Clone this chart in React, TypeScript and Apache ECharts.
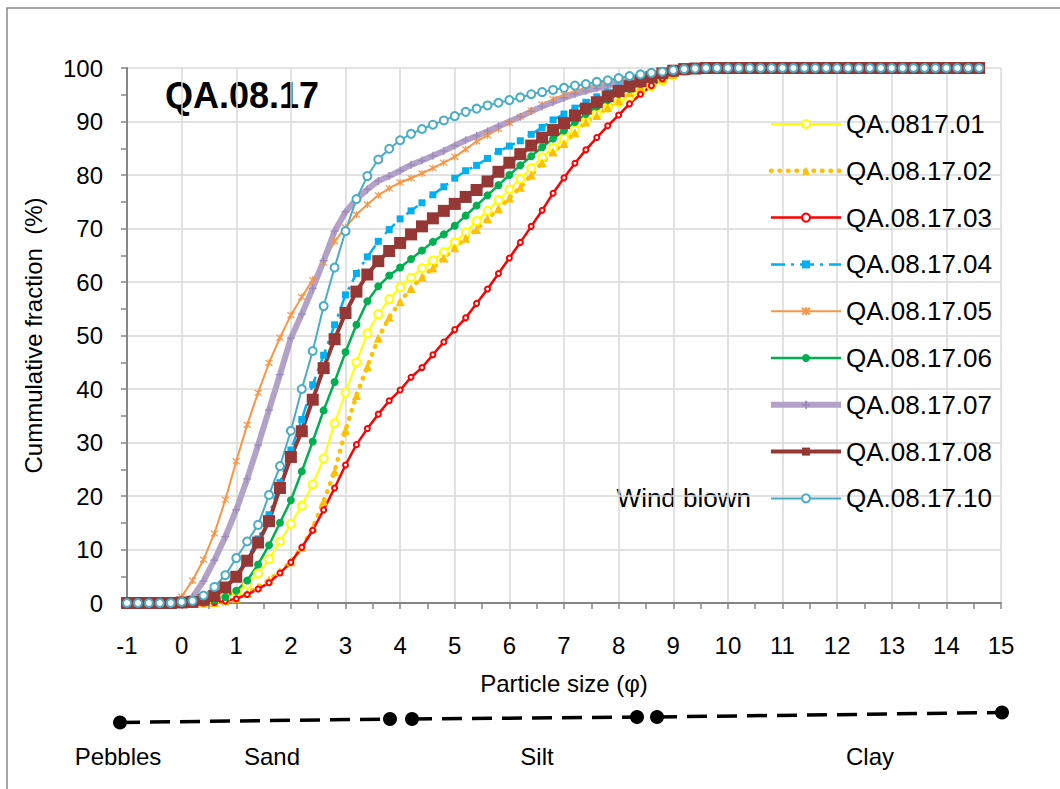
import React, { useEffect, useRef } from "react";
import * as echarts from "echarts";

const FONT = '"Liberation Sans", Arial, sans-serif';

// particle size (phi)
const X = [
  -1.0, -0.8, -0.6, -0.4, -0.2,
  0.0, 0.2, 0.4, 0.6, 0.8, 1.0, 1.2, 1.4, 1.6, 1.8,
  2.0, 2.2, 2.4, 2.6, 2.8, 3.0, 3.2, 3.4, 3.6, 3.8,
  4.0, 4.2, 4.4, 4.6, 4.8, 5.0, 5.2, 5.4, 5.6, 5.8,
  6.0, 6.2, 6.4, 6.6, 6.8, 7.0, 7.2, 7.4, 7.6, 7.8,
  8.0, 8.2, 8.4, 8.6, 8.8, 9.0, 9.2, 9.4, 9.6, 9.8,
  10.0, 10.2, 10.4, 10.6, 10.8, 11.0, 11.2, 11.4, 11.6, 11.8,
  12.0, 12.2, 12.4, 12.6, 12.8, 13.0, 13.2, 13.4, 13.6, 13.8,
  14.0, 14.2, 14.4, 14.6,
];

const TAIL = [
  100, 100, 100, 100, 100, 100, 100, 100, 100, 100,
  100, 100, 100, 100, 100, 100, 100, 100, 100, 100,
  100, 100, 100,
];

const S01 = [
  0, 0, 0, 0, 0,
  0, 0, 0.1, 0.4, 1.0, 2.0, 3.5, 5.5, 8.2, 11.5,
  14.8, 18.2, 22.2, 27.0, 33.6, 39.3, 45.0, 50.4, 54.0, 56.8,
  59.0, 60.8, 62.6, 64.0, 65.6, 67.4, 69.3, 71.4, 73.3, 75.3,
  77.3, 79.3, 81.3, 83.3, 85.1, 86.8, 88.5, 90.0, 91.4, 92.6,
  93.6, 94.6, 95.6, 96.6, 97.6, 98.6, 99.4, 99.8, 100, 100,
  100, ...TAIL,
];
const S02 = [
  0, 0, 0, 0, 0,
  0, 0, 0, 0.1, 0.4, 0.9, 1.8, 3.0, 4.3, 5.9,
  7.7, 10.4, 14.0, 19.0, 24.6, 32.3, 38.8, 44.2, 49.5, 53.4,
  56.3, 58.8, 60.9, 62.6, 64.5, 66.4, 68.2, 69.8, 71.8, 73.7,
  75.7, 77.7, 80.0, 82.3, 84.3, 85.9, 87.9, 89.9, 91.1, 92.6,
  93.9, 95.4, 96.4, 97.2, 98.0, 98.8, 99.4, 99.8, 100, 100,
  100, ...TAIL,
];
const S03 = [
  0, 0, 0, 0, 0,
  0, 0, 0, 0.1, 0.4, 0.8, 1.6, 2.6, 3.8, 5.6,
  7.6, 10.4, 13.6, 17.4, 21.5, 25.8, 29.6, 32.6, 35.3, 37.8,
  39.8, 42.2, 44.0, 46.4, 48.8, 51.1, 53.3, 56.0, 58.7, 61.6,
  64.5, 67.4, 70.4, 73.4, 76.6, 79.5, 82.2, 84.7, 87.0, 89.2,
  91.2, 93.3, 95.1, 96.7, 98.0, 99.0, 99.6, 99.9, 100, 100,
  100, ...TAIL,
];
const S04 = [
  0, 0, 0, 0, 0,
  0.1, 0.2, 0.6, 1.4, 3.0, 5.2, 8.3, 12.0, 16.5, 22.5,
  28.6, 34.3, 40.8, 46.3, 52.0, 57.6, 61.6, 64.7, 67.6, 69.8,
  71.8, 73.3, 74.8, 76.3, 77.8, 79.4, 80.8, 81.8, 83.1, 84.4,
  85.4, 86.4, 87.6, 88.9, 90.3, 91.4, 92.5, 93.6, 94.6, 95.5,
  96.3, 97.0, 97.7, 98.3, 98.9, 99.3, 99.7, 99.9, 100, 100,
  100, ...TAIL,
];
const S05 = [
  0, 0, 0, 0, 0,
  1.2, 4.2, 8.1, 13.0, 19.3, 26.5, 33.3, 39.3, 44.9, 49.6,
  53.8, 57.2, 60.4, 63.6, 67.6, 70.2, 72.6, 74.5, 76.2, 77.5,
  78.6, 79.4, 80.3, 81.3, 82.3, 83.4, 84.8, 86.3, 87.4, 88.6,
  89.7, 90.9, 92.1, 93.2, 94.2, 95.0, 95.7, 96.3, 97.0, 97.5,
  98.0, 98.4, 98.8, 99.1, 99.4, 99.6, 99.8, 99.9, 100, 100,
  100, ...TAIL,
];
const S06 = [
  0, 0, 0, 0, 0,
  0, 0, 0.2, 0.5, 1.1, 2.3, 4.2, 7.2, 10.8, 15.0,
  19.2, 24.6, 30.2, 36.0, 41.3, 46.9, 52.0, 56.4, 59.2, 61.2,
  62.7, 64.3, 65.9, 67.5, 68.9, 70.5, 72.4, 74.3, 76.2, 78.1,
  80.0, 81.8, 83.5, 85.2, 86.8, 88.3, 89.9, 91.4, 92.8, 94.0,
  95.1, 96.1, 97.0, 97.9, 98.6, 99.2, 99.6, 99.9, 100, 100,
  100, ...TAIL,
];
const S07 = [
  0, 0, 0, 0, 0,
  0.2, 1.1, 4.1, 8.0, 12.4, 17.4, 23.2, 29.5, 36.1, 42.7,
  49.5, 54.0, 58.8, 64.0, 69.5, 73.1, 75.5, 77.3, 78.9, 79.8,
  80.8, 81.9, 82.7, 83.6, 84.5, 85.5, 86.5, 87.3, 88.2, 89.1,
  90.0, 90.9, 91.9, 92.8, 93.6, 94.4, 95.1, 95.7, 96.2, 96.7,
  97.2, 97.7, 98.1, 98.5, 98.9, 99.3, 99.6, 99.8, 100, 100,
  100, ...TAIL,
];
const S08 = [
  0, 0, 0, 0, 0,
  0.1, 0.2, 0.6, 1.3, 2.9, 4.9, 7.9, 11.3, 15.3, 21.5,
  27.3, 32.1, 38.0, 43.9, 49.3, 54.2, 58.2, 61.4, 63.9, 65.8,
  67.3, 68.9, 70.4, 71.9, 73.3, 74.6, 75.9, 77.2, 78.8, 80.6,
  82.3, 83.9, 85.5, 87.0, 88.4, 89.7, 91.1, 92.4, 93.6, 94.7,
  95.7, 96.6, 97.5, 98.3, 99.0, 99.5, 99.8, 99.9, 100, 100,
  100, ...TAIL,
];
const S10 = [
  0, 0, 0, 0, 0,
  0.2, 0.4, 1.4, 3.0, 5.2, 8.4, 11.5, 14.6, 20.2, 25.6,
  32.2, 40.0, 47.1, 55.5, 62.7, 69.5, 75.5, 79.8, 82.9, 84.9,
  86.5, 87.7, 88.6, 89.4, 90.2, 91.0, 91.8, 92.4, 93.0, 93.5,
  94.0, 94.5, 95.1, 95.5, 95.9, 96.3, 96.7, 97.0, 97.4, 97.7,
  98.1, 98.5, 98.8, 99.1, 99.3, 99.6, 99.8, 99.9, 100, 100,
  100, ...TAIL,
];

const NAMES = [
  "QA.0817.01",
  "QA.08.17.02",
  "QA.08.17.03",
  "QA.08.17.04",
  "QA.08.17.05",
  "QA.08.17.06",
  "QA.08.17.07",
  "QA.08.17.08",
  "QA.08.17.10",
];
const VALUES = [S01, S02, S03, S04, S05, S06, S07, S08, S10];

const TITLE = "QA.08.17";
const NOTE = "Wind blown";
const X_TITLE = "Particle size (\u03c6)";
const Y_TITLE = "Cummulative fraction  (%)";
const CLASS_LABELS = ["Pebbles", "Sand", "Silt", "Clay"];

const STAR = "path://M0,0L10,10M10,0L0,10M5,-1L5,11";
const PLUS = "path://M5,0L5,10M0,5L10,5";

const STYLES: any[] = [
  { color: "#FFFF00", lw: 2, type: "solid", symbol: "emptyCircle", size: 8, bw: 1.5 },
  { color: "#FFC000", lw: 4.5, type: [0.5, 8], cap: "round", symbol: "triangle", size: 9, bw: 0 },
  { color: "#FF0000", lw: 2.5, type: "solid", symbol: "emptyCircle", size: 5, bw: 1.5 },
  { color: "#00B0F0", lw: 2.5, type: [14, 6, 3, 6], symbol: "rect", size: 7, bw: 0 },
  { color: "#F79646", lw: 2, type: "solid", symbol: STAR, size: 7, bw: 1.2, border: "#F79646" },
  { color: "#00B050", lw: 2.5, type: "solid", symbol: "circle", size: 8, bw: 0 },
  { color: "#B3A2C7", lw: 6, type: "solid", symbol: PLUS, size: 8, bw: 1.2, border: "#9C88BE" },
  { color: "#953735", lw: 4, type: "solid", symbol: "rect", size: 12, bw: 0 },
  { color: "#4BACC6", lw: 2, type: "solid", symbol: "emptyCircle", size: 8, bw: 1.5 },
];

// decorative grain-size class scale under the axis (pixel layout)
const SCALE_DOTS = [
  [120, 722.5], [390, 719], [412, 719], [637, 717], [657, 717], [1002, 712.5],
];
const SCALE_LABEL_X = [118, 272, 537, 870];

export default function App() {
  const ref = useRef<HTMLDivElement>(null);
  useEffect(() => {
    if (!ref.current) return;
    const chart = echarts.init(ref.current, undefined, { renderer: "svg" });

    const series = VALUES.map((vals, i) => {
      const st = STYLES[i];
      return {
        name: NAMES[i],
        type: "line",
        data: X.map((x, j) => [x, vals[j]]),
        symbol: st.symbol,
        symbolSize: st.size,
        showSymbol: true,
        lineStyle: { color: st.color, width: st.lw, type: st.type, cap: st.cap || "butt" },
        itemStyle: {
          color: st.color,
          borderColor: st.border || st.color,
          borderWidth: st.bw,
        },
        emphasis: { disabled: true },
      };
    });

    const legendData = NAMES.map((n, i) => ({
      name: n,
      lineStyle: { width: STYLES[i].lw, type: STYLES[i].type, cap: STYLES[i].cap || "butt" },
    }));

    const graphics: any[] = [
      {
        type: "rect",
        shape: { x: 7, y: 8, width: 1200, height: 1000 },
        style: { fill: "none", stroke: "#898989", lineWidth: 1.5 },
        silent: true,
      },
      {
        type: "text",
        x: 242,
        y: 95,
        style: {
          text: TITLE,
          font: `bold 36px ${FONT}`,
          fill: "#000",
          textAlign: "center",
          textVerticalAlign: "middle",
        },
      },
      {
        type: "text",
        x: 751,
        y: 498,
        style: {
          text: NOTE,
          font: `26px ${FONT}`,
          fill: "#000",
          textAlign: "right",
          textVerticalAlign: "middle",
        },
      },
    ];
    for (let k = 0; k < SCALE_DOTS.length; k += 2) {
      const a = SCALE_DOTS[k];
      const b = SCALE_DOTS[k + 1];
      graphics.push({
        type: "line",
        shape: { x1: a[0], y1: a[1], x2: b[0], y2: b[1] },
        style: { stroke: "#000", lineWidth: 3.5, lineDash: [20, 10] },
      });
    }
    SCALE_DOTS.forEach((d) => {
      graphics.push({
        type: "circle",
        shape: { cx: d[0], cy: d[1], r: 7 },
        style: { fill: "#000" },
      });
    });
    CLASS_LABELS.forEach((t, i) => {
      graphics.push({
        type: "text",
        x: SCALE_LABEL_X[i],
        y: 756,
        style: {
          text: t,
          font: `24px ${FONT}`,
          fill: "#000",
          textAlign: "center",
          textVerticalAlign: "middle",
        },
      });
    });

    const axisGray = "#868686";
    chart.setOption({
      animation: false,
      backgroundColor: "#fff",
      textStyle: { fontFamily: FONT },
      grid: { left: 127, right: 59, top: 68, bottom: 186 },
      legend: {
        orient: "vertical",
        left: 768,
        top: 111,
        padding: 0,
        itemWidth: 70,
        itemHeight: 10,
        itemGap: 20.8,
        textStyle: { fontSize: 26, color: "#000", fontFamily: FONT, lineHeight: 26 },
        data: legendData,
        selectedMode: false,
      },
      xAxis: {
        type: "value",
        min: -1,
        max: 15,
        interval: 1,
        name: X_TITLE,
        nameLocation: "middle",
        nameGap: 68,
        nameTextStyle: { fontSize: 24, color: "#000", fontFamily: FONT },
        axisLine: { onZero: false, lineStyle: { color: axisGray, width: 2 } },
        axisTick: { show: true, length: 6, lineStyle: { color: axisGray, width: 1.5 } },
        minorTick: { show: true, splitNumber: 2, length: 6, lineStyle: { color: axisGray, width: 1.5 } },
        axisLabel: { fontSize: 24, color: "#000", margin: 30, fontFamily: FONT },
        splitLine: { show: true, lineStyle: { color: "#D9D9D9", width: 1.5 } },
      },
      yAxis: {
        type: "value",
        min: 0,
        max: 100,
        interval: 10,
        name: Y_TITLE,
        nameLocation: "middle",
        nameGap: 82,
        nameTextStyle: { fontSize: 24, color: "#000", fontFamily: FONT },
        axisLine: { show: true, onZero: false, lineStyle: { color: axisGray, width: 2 } },
        axisTick: { show: true, length: 6, lineStyle: { color: axisGray, width: 1.5 } },
        minorTick: { show: true, splitNumber: 2, length: 6, lineStyle: { color: axisGray, width: 1.5 } },
        axisLabel: { fontSize: 24, color: "#000", margin: 24, fontFamily: FONT },
        splitLine: { show: true, lineStyle: { color: "#D9D9D9", width: 1.5 } },
      },
      graphic: graphics,
      series,
    });
    return () => chart.dispose();
  }, []);
  return (
    <div
      ref={ref}
      style={{ position: "absolute", left: 0, top: 0, width: 1060, height: 789 }}
    />
  );
}
